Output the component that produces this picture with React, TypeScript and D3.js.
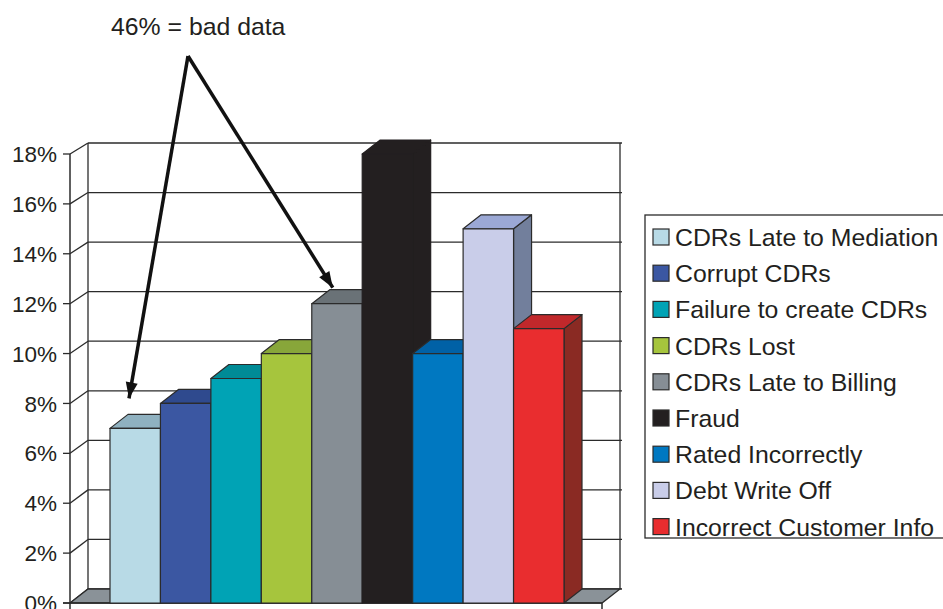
import React from "react";
import * as d3 from "d3";

// Share of revenue leakage by cause (percent)
const categories = [
  "CDRs Late to Mediation",
  "Corrupt CDRs",
  "Failure to create CDRs",
  "CDRs Lost",
  "CDRs Late to Billing",
  "Fraud",
  "Rated Incorrectly",
  "Debt Write Off",
  "Incorrect Customer Info",
];
const values = [7, 8, 9, 10, 12, 18, 10, 15, 11];
const frontColors = ["#b8dae6", "#3b57a2", "#00a3b5", "#a6c53d", "#868e95", "#231f20", "#0078c1", "#c9cde9", "#e92d2f"];
const topColors = ["#8fb1c0", "#2f4a8e", "#008b96", "#88a63a", "#6a7277", "#231f20", "#0061a6", "#9ba8d5", "#c1282b"];
const sideColors = ["#7e9aa8", "#263e78", "#00707a", "#6e8a2c", "#585e62", "#231f20", "#004f88", "#727f9c", "#8a2a23"];
const yTicks = [0, 2, 4, 6, 8, 10, 12, 14, 16, 18];
const annotation = "46% = bad data";

const W = 943;
const H = 609;
const DX = 18;
const DY = -14;
const FONT = "'Liberation Sans', Arial, Helvetica, sans-serif";
const INK = "#2b2b2b";
const TEXT = "#231f20";

export default function App() {
  const axisX = 70;
  const floorRight = 602;
  const yFront = d3.scaleLinear().domain([0, 18]).range([603, 154]);
  const yBack = d3.scaleLinear().domain([0, 18]).range([589, 143]);
  const x = d3.scaleBand<string>().domain(categories).range([110, 564]).paddingInner(0);
  const bw = x.bandwidth();

  const poly = (pts: [number, number][]) => pts.map((p) => p.join(",")).join(" ");

  // Arrows from the annotation down to the first and fifth bars
  const apex: [number, number] = [188, 56];
  const arrowTargets: [number, number][] = [
    [x(categories[0])! + 19, yFront(values[0]) - 30],
    [x(categories[4])! + 21, yFront(values[4]) - 16],
  ];

  const arrowHead = (from: [number, number], to: [number, number]) => {
    const ang = Math.atan2(to[1] - from[1], to[0] - from[0]);
    const len = 16;
    const half = 6;
    const bx = to[0] - len * Math.cos(ang);
    const by = to[1] - len * Math.sin(ang);
    const px = -Math.sin(ang) * half;
    const py = Math.cos(ang) * half;
    return poly([
      [to[0], to[1]],
      [bx + px, by + py],
      [bx - px, by - py],
    ]);
  };

  const legendX = 645;
  const legendY = 215;
  const rowH = 36.2;

  return (
    <svg
      width={W}
      height={H}
      viewBox={`0 0 ${W} ${H}`}
      style={{ position: "absolute", left: 0, top: 0, background: "#fff" }}
    >
      {/* back wall */}
      <rect x={axisX + DX} y={yBack(18)} width={floorRight - axisX} height={yBack(0) - yBack(18)} fill="#fff" />
      {yTicks.map((t) => (
        <g key={`g${t}`}>
          <line x1={axisX + DX} x2={floorRight + DX + 2} y1={yBack(t)} y2={yBack(t)} stroke={INK} strokeWidth={1.3} />
          <line x1={axisX} x2={axisX + DX} y1={yFront(t)} y2={yBack(t)} stroke={INK} strokeWidth={1.3} />
          <line x1={axisX - 7} x2={axisX} y1={yFront(t)} y2={yFront(t)} stroke={INK} strokeWidth={1.3} />
          <text
            x={57}
            y={yFront(t)}
            dy="0.36em"
            textAnchor="end"
            fontFamily={FONT}
            fontSize={22.5}
            fill={TEXT}
          >
            {`${t}%`}
          </text>
        </g>
      ))}
      <line x1={axisX + DX} x2={axisX + DX} y1={yBack(18)} y2={yBack(0)} stroke={INK} strokeWidth={1.3} />
      <line x1={floorRight + DX} x2={floorRight + DX} y1={yBack(18)} y2={yBack(0)} stroke={INK} strokeWidth={1.3} />

      {/* floor */}
      <polygon
        points={poly([
          [axisX, yFront(0)],
          [floorRight, yFront(0)],
          [floorRight + DX, yBack(0)],
          [axisX + DX, yBack(0)],
        ])}
        fill="#8a9298"
        stroke={INK}
        strokeWidth={1.3}
      />

      {/* value axis */}
      <line x1={axisX} x2={axisX} y1={yFront(18)} y2={yFront(0)} stroke={INK} strokeWidth={1.5} />
      <line x1={axisX - 7} x2={floorRight} y1={yFront(0)} y2={yFront(0)} stroke={INK} strokeWidth={1.5} />
      <line x1={axisX} x2={axisX} y1={yFront(0)} y2={yFront(0) + 7} stroke={INK} strokeWidth={1.5} />
      <line x1={floorRight} x2={floorRight} y1={yFront(0)} y2={yFront(0) + 7} stroke={INK} strokeWidth={1.5} />

      {/* 3D bars */}
      {categories.map((c, i) => {
        const x0 = x(c)!;
        const x1 = x0 + bw;
        const yt = yFront(values[i]);
        const yb = yFront(0);
        const edge = frontColors[i] === "#231f20" ? "#231f20" : INK;
        return (
          <g key={c} stroke={edge} strokeWidth={1.2} strokeLinejoin="round">
            <polygon
              points={poly([
                [x1, yt],
                [x1 + DX, yt + DY],
                [x1 + DX, yb + DY],
                [x1, yb],
              ])}
              fill={sideColors[i]}
            />
            <polygon
              points={poly([
                [x0, yt],
                [x0 + DX, yt + DY],
                [x1 + DX, yt + DY],
                [x1, yt],
              ])}
              fill={topColors[i]}
            />
            <rect x={x0} y={yt} width={bw} height={yb - yt} fill={frontColors[i]} />
          </g>
        );
      })}

      {/* annotation */}
      <text x={111} y={35} fontFamily={FONT} fontSize={24.8} fill={TEXT}>
        {annotation}
      </text>
      {arrowTargets.map((tg, i) => (
        <g key={`a${i}`}>
          <line x1={apex[0]} y1={apex[1]} x2={tg[0]} y2={tg[1]} stroke="#111" strokeWidth={3.5} />
          <polygon points={arrowHead(apex, tg)} fill="#111" />
        </g>
      ))}

      {/* legend */}
      <rect x={legendX} y={legendY} width={W - legendX + 5} height={323} fill="#fff" stroke={INK} strokeWidth={1.3} />
      {categories.map((c, i) => {
        const cy = legendY + 22 + i * rowH;
        return (
          <g key={`l${c}`}>
            <rect x={653} y={cy - 8} width={16} height={16} fill={frontColors[i]} stroke={INK} strokeWidth={1.2} />
            <text x={675} y={cy} dy="0.36em" fontFamily={FONT} fontSize={24.8} fill={TEXT}>
              {c}
            </text>
          </g>
        );
      })}
    </svg>
  );
}
